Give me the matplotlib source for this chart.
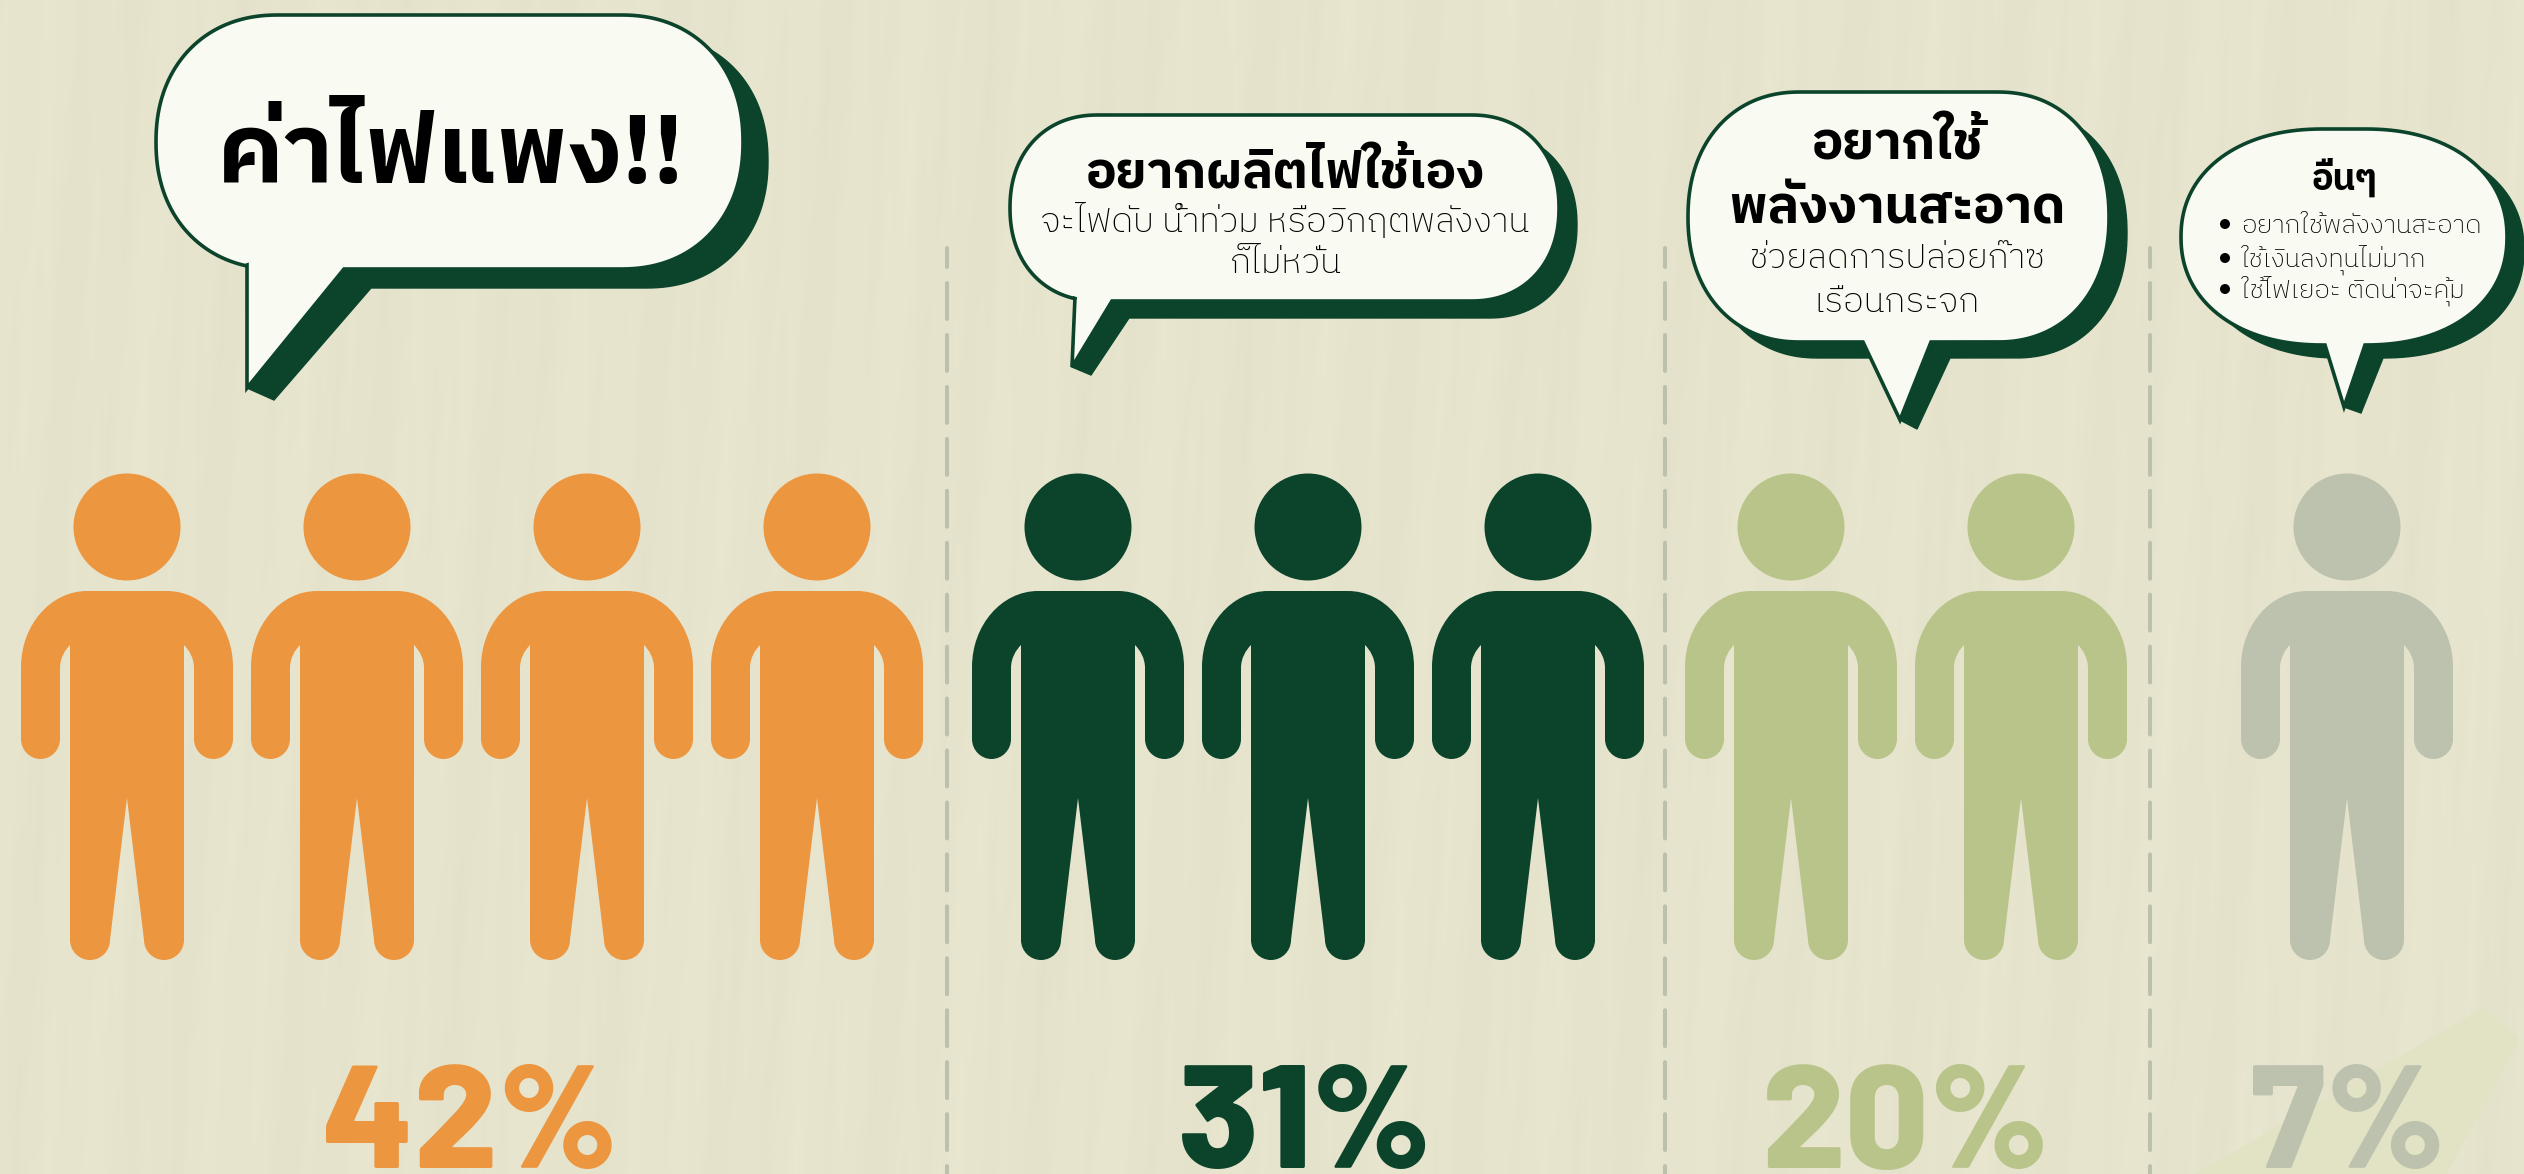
import numpy as np
import matplotlib
matplotlib.use("Agg")
import matplotlib.pyplot as plt
from matplotlib.path import Path
from matplotlib.patches import PathPatch, Circle, Polygon

plt.rcParams['lines.scale_dashes'] = False

# Data
percents = [42, 31, 20, 7]
people = [4, 3, 2, 1]
person_x = [[127, 357, 587, 817], [1078, 1308, 1538], [1791, 2021], [2347]]
pct_x = [470, 1305, 1906, 2348]
colors = ['#EC9640', '#0B432B', '#B9C48A', '#BDC2AE']
divider_x = [947, 1665, 2150]
other_items = ['อยากใช้พลังงานสะอาด', 'ใช้เงินลงทุนไม่มาก', 'ใช้ไฟเยอะ ติดน่าจะคุ้ม']

DARK = '#0B432B'
WHITE = '#F9FAF2'
BG = '#E6E4CD'
FONT = 'IBM Plex Sans Thai'

W, H = 2524, 1174
fig = plt.figure(figsize=(W / 100, H / 100), dpi=100)
ax = fig.add_axes([0, 0, 1, 1])
ax.axis('off')

# paper texture, vertical streaks
xx, yy = np.meshgrid(np.arange(0, W, 4), np.arange(0, H, 4))
tex = (np.sin(xx * 0.043 + yy * 0.004) + 0.8 * np.sin(xx * 0.117 + 1.3 + yy * 0.007)
       + 0.6 * np.sin(xx * 0.29 + yy * 0.011 + 0.4) * np.sin(yy * 0.012 + xx * 0.02))
base = np.array(matplotlib.colors.to_rgb(BG))
img = base[None, None, :] + (tex * 0.004)[:, :, None]
ax.imshow(np.clip(img, 0, 1), extent=[0, W, H, 0], aspect='auto', zorder=0, interpolation='bilinear')
ax.set_xlim(0, W)
ax.set_ylim(H, 0)

# pale stroke bottom right
ax.add_patch(Polygon([(2204, 1180), (2482, 1020), (2508, 1040), (2432, 1180)], closed=True,
                     fc='#E2E2C4', ec='#E2E2C4', lw=14, joinstyle='round', zorder=1))

# dividers
for x in divider_x:
    ax.plot([x, x], [248, H], color='#BBC1AC', lw=2.9, zorder=2,
            linestyle=(12.2, (25.9, 11.5)), dash_capstyle='round')


def draw_person(cx, color):
    ax.add_patch(Circle((cx, 527), 53.5, fc=color, ec='none', zorder=3))
    k = 0.55
    half = [
        (Path.MOVETO, (0, 591)),
        (Path.LINETO, (40, 591)),
        (Path.CURVE4, (40 + 66 * k, 591)),
        (Path.CURVE4, (106, 667 - 76 * k)),
        (Path.CURVE4, (106, 667)),
        (Path.LINETO, (106, 739)),
        (Path.CURVE4, (106, 739 + 20 * k)),
        (Path.CURVE4, (86.5 + 19.5 * k, 759)),
        (Path.CURVE4, (86.5, 759)),
        (Path.CURVE4, (86.5 - 19.5 * k, 759)),
        (Path.CURVE4, (67, 739 + 20 * k)),
        (Path.CURVE4, (67, 739)),
        (Path.LINETO, (67, 668)),
        (Path.CURVE4, (67, 658)),
        (Path.CURVE4, (62, 650)),
        (Path.CURVE4, (57, 645)),
        (Path.LINETO, (57, 940)),
        (Path.CURVE4, (57, 940 + 20 * k)),
        (Path.CURVE4, (37 + 20 * k, 960)),
        (Path.CURVE4, (37, 960)),
        (Path.CURVE4, (37 - 20 * k, 960)),
        (Path.CURVE4, (17, 940 + 20 * k)),
        (Path.CURVE4, (17, 940)),
        (Path.LINETO, (0, 798)),
    ]
    codes = [c for c, _ in half]
    verts = [(cx + p[0], p[1]) for _, p in half]
    # mirror the right half back to the top
    rev = list(reversed(half))
    for i in range(1, len(rev)):
        codes.append(rev[i - 1][0])
        verts.append((cx - rev[i][1][0], rev[i][1][1]))
    codes.append(Path.CLOSEPOLY)
    verts.append((cx, 591))
    ax.add_patch(PathPatch(Path(verts, codes), fc=color, ec='none', zorder=3))


for xs, n, c in zip(person_x, people, colors):
    for x in xs[:n]:
        draw_person(x, c)

for x, p, c in zip(pct_x, percents, colors):
    ax.text(x, 1168, f'{p}%', color=c, fontsize=106, family=['Barlow', 'Roboto'], weight=800,
            ha='center', va='baseline', zorder=4)


def outline(l, r, t, b, rx, ry, n=40):
    pts = []
    ts = np.linspace(0, np.pi / 2, n)
    cs, sn = np.cos(ts) ** 0.92, np.sin(ts) ** 0.92
    # clockwise on screen, starting at top right corner
    for c, s in zip(sn, cs):
        pts.append((r - rx + rx * c, t + ry - ry * s))
    for c, s in zip(cs, sn):
        pts.append((r - rx + rx * c, b - ry + ry * s))
    for c, s in zip(sn, cs):
        pts.append((l + rx - rx * c, b - ry + ry * s))
    for c, s in zip(cs, sn):
        pts.append((l + rx - rx * c, t + ry - ry * s))
    return np.array(pts)


def with_tail(pts, right_join, tail, left_join):
    i = np.argmin(np.hypot(*(pts - np.array(right_join)).T))
    j = np.argmin(np.hypot(*(pts - np.array(left_join)).T))
    return np.vstack([pts[:i], np.array(tail), pts[j:]])


def bubble(l, r, t, b, rx, ry, off, lj, rj, tip, rj_s, tip_s, lj_s):
    body = outline(l, r, t, b, rx, ry)
    shadow = with_tail(body + np.array(off), rj_s, [rj_s, tip_s, tip, lj, lj_s], lj_s)
    ax.add_patch(Polygon(shadow, closed=True, fc=DARK, ec=DARK, lw=1, zorder=5))
    white = with_tail(body, rj, [rj, tip, lj], lj)
    ax.add_patch(Polygon(white, closed=True, fc=WHITE, ec=DARK, lw=2.6, joinstyle='miter', zorder=6))


bubble(156, 743, 15, 269, 122, 127, (25, 19), (247, 265), (344, 269), (247, 388), (371, 288), (274, 400), (181, 161))
bubble(1010, 1559, 115, 301, 88, 93, (18, 17), (1075, 297), (1112, 301), (1072, 367), (1129, 318), (1091, 375), (1028, 225))
bubble(1688, 2109, 92, 342, 112, 125, (18, 16), (1863, 342), (1931, 342), (1900, 420), (1950, 358), (1917, 429), (1871, 358))
bubble(2181, 2507, 129, 345, 142, 108, (17, 13), (2325, 345), (2365, 345), (2344, 407), (2383, 358), (2361, 413), (2329, 358))


def label(x, y, s, size, bold=True, ha='center'):
    ax.text(x, y, s, fontsize=size, family=FONT, weight='bold' if bold else 'light',
            color='black', ha=ha, va='baseline', zorder=7)


label(451, 183, 'ค่าไฟแพง!!', 70)
label(1285, 188, 'อยากผลิตไฟใช้เอง', 37)
label(1285, 232, 'จะไฟดับ น้ำท่วม หรือวิกฤตพลังงาน', 25.5, bold=False)
label(1285, 273, 'ก็ไม่หวั่น', 25.5, bold=False)
label(1897, 160, 'อยากใช้', 38)
label(1897, 223, 'พลังงานสะอาด', 38)
label(1897, 268, 'ช่วยลดการปล่อยก๊าซ', 25.5, bold=False)
label(1897, 312, 'เรือนกระจก', 25.5, bold=False)
label(2345, 190, 'อื่นๆ', 26)
for y, s in zip([233, 267, 298], other_items):
    label(2241, y, s, 19, bold=False, ha='left')
    ax.add_patch(Circle((2225, y - 9), 5, fc='black', ec='none', zorder=7))

fig.savefig('out.png', dpi=100)
